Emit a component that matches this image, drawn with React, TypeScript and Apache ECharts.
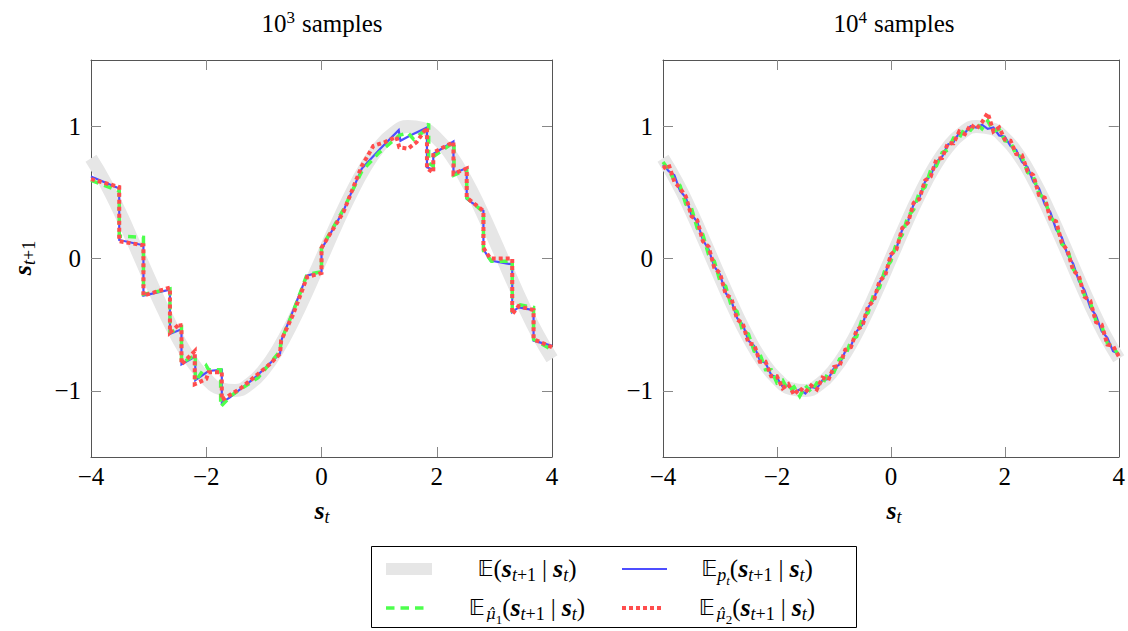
import React, { useEffect, useRef } from 'react';
import * as echarts from 'echarts';

const FONT = 'Liberation Serif';

// Panel titles and tick labels
const panelTitles = ['3', '4'];
const xTickValues = [-4, -2, 0, 2, 4];
const yTickValues = [-1, 0, 1];

// True conditional expectation (gray band), sampled every 0.25 from -4 to 4
const trueY = [
  0.757, 0.572, 0.351, 0.108, -0.141, -0.382, -0.598, -0.778, -0.909, -0.984, -0.997,
  -0.949, -0.841, -0.682, -0.479, -0.247, 0.0, 0.247, 0.479, 0.682, 0.841, 0.949, 0.997,
  0.984, 0.909, 0.778, 0.598, 0.382, 0.141, -0.108, -0.351, -0.572, -0.757,
];

// 10^3 samples panel: piecewise estimates [s_t, s_{t+1}]
const blueLeft: [number, number][] = [
  [-4.0, 0.62], [-3.51, 0.53], [-3.51, 0.14], [-3.09, 0.10], [-3.09, -0.28], [-2.63, -0.235],
  [-2.63, -0.57], [-2.43, -0.535], [-2.43, -0.8], [-2.19, -0.74], [-2.19, -0.92], [-1.96, -0.85],
  [-1.73, -0.84], [-1.73, -1.09], [-1.59, -1.05], [-1.18, -0.91], [-0.72, -0.72], [-0.69, -0.61],
  [-0.49, -0.39], [-0.255, -0.13], [0.0, -0.1], [0.0, 0.07], [0.38, 0.36], [0.7, 0.68],
  [1.02, 0.83], [1.34, 0.97], [1.37, 0.89], [1.54, 0.93], [1.83, 0.99], [1.83, 0.69],
  [1.94, 0.67], [1.94, 0.79], [2.29, 0.885], [2.29, 0.64], [2.52, 0.685], [2.52, 0.45],
  [2.81, 0.36], [2.81, 0.07], [2.93, -0.015], [3.31, -0.045], [3.31, -0.405], [3.42, -0.37],
  [3.68, -0.39], [3.68, -0.62], [4.0, -0.66],
];
const greenLeft: [number, number][] = [
  [-4.0, 0.59], [-3.51, 0.51], [-3.51, 0.17], [-3.09, 0.16], [-3.09, -0.27], [-2.63, -0.23],
  [-2.63, -0.56], [-2.43, -0.52], [-2.43, -0.79], [-2.19, -0.73], [-2.19, -0.93], [-2.0, -0.81],
  [-1.96, -0.84], [-1.75, -0.84], [-1.75, -1.12], [-1.55, -1.03], [-1.1, -0.9], [-0.72, -0.7],
  [-0.7, -0.62], [-0.49, -0.4], [-0.25, -0.12], [0.0, -0.1], [0.0, 0.08], [0.38, 0.37],
  [0.7, 0.66], [1.0, 0.8], [1.35, 0.93], [1.5, 0.95], [1.6, 0.9], [1.8, 0.97], [1.86, 1.02],
  [1.86, 0.72], [1.94, 0.7], [1.94, 0.77], [2.3, 0.88], [2.3, 0.63], [2.52, 0.67], [2.52, 0.46],
  [2.81, 0.35], [2.81, 0.06], [2.95, -0.02], [3.31, -0.02], [3.31, -0.39], [3.45, -0.35],
  [3.68, -0.37], [3.68, -0.61], [4.0, -0.69],
];
const redLeft: [number, number][] = [
  [-4.0, 0.6], [-3.51, 0.54], [-3.51, 0.13], [-3.09, 0.1], [-3.09, -0.28], [-2.63, -0.22],
  [-2.63, -0.56], [-2.45, -0.49], [-2.43, -0.55], [-2.43, -0.8], [-2.2, -0.7], [-2.2, -0.95],
  [-2.0, -0.91], [-1.96, -0.86], [-1.73, -0.86], [-1.73, -1.07], [-1.4, -0.98], [-0.9, -0.8],
  [-0.72, -0.72], [-0.7, -0.62], [-0.49, -0.42], [-0.25, -0.14], [0.0, -0.11], [0.0, 0.08],
  [0.38, 0.35], [0.7, 0.7], [0.9, 0.85], [1.1, 0.88], [1.3, 0.92], [1.35, 0.84], [1.5, 0.83],
  [1.65, 0.88], [1.83, 0.99], [1.83, 0.68], [1.94, 0.65], [1.94, 0.8], [2.29, 0.88], [2.29, 0.64],
  [2.52, 0.68], [2.52, 0.46], [2.81, 0.36], [2.81, 0.08], [2.93, 0.0], [3.31, 0.0], [3.31, -0.42],
  [3.42, -0.36], [3.68, -0.39], [3.68, -0.61], [4.0, -0.67],
];

// 10^4 samples panel: estimates sampled every 0.1 from -4 to 4
const blueRight = [
  0.71, 0.66, 0.63, 0.51, 0.46, 0.33, 0.28, 0.14, 0.07, -0.06,
  -0.12, -0.26, -0.32, -0.45, -0.50, -0.62, -0.66, -0.77, -0.79, -0.88,
  -0.90, -0.97, -0.96, -1.01, -0.99, -1.02, -0.97, -0.98, -0.92, -0.91,
  -0.83, -0.80, -0.70, -0.66, -0.55, -0.50, -0.37, -0.31, -0.18, -0.12,
  0.02, 0.08, 0.22, 0.28, 0.41, 0.46, 0.58, 0.63, 0.73, 0.77,
  0.86, 0.88, 0.95, 0.95, 1.00, 0.99, 1.01, 0.98, 0.99, 0.93,
  0.92, 0.85, 0.82, 0.73, 0.69, 0.58, 0.53, 0.41, 0.35, 0.22,
  0.16, 0.03, -0.04, -0.17, -0.24, -0.37, -0.43, -0.55, -0.60, -0.70,
  -0.72,
];
const greenRight = [
  0.73, 0.67, 0.59, 0.55, 0.41, 0.38, 0.23, 0.18, 0.03, -0.02,
  -0.17, -0.21, -0.36, -0.40, -0.55, -0.57, -0.70, -0.72, -0.84, -0.84,
  -0.94, -0.92, -1.00, -0.97, -1.04, -0.96, -1.01, -0.94, -0.95, -0.86,
  -0.86, -0.76, -0.74, -0.62, -0.59, -0.45, -0.41, -0.27, -0.22, -0.08,
  -0.02, 0.12, 0.18, 0.32, 0.37, 0.50, 0.54, 0.67, 0.70, 0.80,
  0.82, 0.91, 0.91, 0.99, 0.97, 1.02, 0.98, 1.04, 0.96, 0.98,
  0.89, 0.88, 0.78, 0.77, 0.65, 0.62, 0.49, 0.45, 0.31, 0.27,
  0.11, 0.07, -0.08, -0.14, -0.28, -0.33, -0.47, -0.51, -0.64, -0.67,
  -0.73,
];
const redRight = [
  0.68, 0.71, 0.58, 0.53, 0.47, 0.32, 0.29, 0.13, 0.09, -0.07,
  -0.11, -0.27, -0.30, -0.46, -0.49, -0.64, -0.65, -0.78, -0.78, -0.89,
  -0.89, -0.98, -0.95, -1.03, -0.98, -1.01, -0.96, -0.99, -0.90, -0.92,
  -0.82, -0.81, -0.69, -0.67, -0.54, -0.51, -0.36, -0.32, -0.17, -0.13,
  0.03, 0.07, 0.23, 0.27, 0.42, 0.45, 0.59, 0.62, 0.75, 0.76,
  0.87, 0.87, 0.96, 0.94, 1.01, 0.98, 1.03, 1.10, 0.96, 0.99,
  0.90, 0.89, 0.79, 0.78, 0.66, 0.63, 0.48, 0.46, 0.30, 0.28,
  0.12, 0.06, -0.09, -0.13, -0.29, -0.32, -0.48, -0.50, -0.65, -0.66,
  -0.74,
];

const GRAY = '#e6e6e6';
const BLUE = '#4d4dff';
const GREEN = '#4dff4d';
const RED = '#ff4d4d';

const rich: any = {
  n: { fontFamily: FONT, fontSize: 25, color: '#000' },
  bb: { fontFamily: 'DejaVu Sans', fontSize: 22, color: '#000' },
  s: { fontFamily: FONT, fontSize: 26, fontWeight: 'bold', fontStyle: 'italic', color: '#000' },
  sub: { fontFamily: FONT, fontSize: 18, fontStyle: 'italic', color: '#000', padding: [14, 0, 0, 0] },
  subg: { fontFamily: 'DejaVu Serif', fontSize: 15, fontStyle: 'italic', color: '#000', padding: [14, 0, 0, 1] },
  subn: { fontFamily: FONT, fontSize: 18, color: '#000', padding: [14, 0, 0, 0] },
  subsub: { fontFamily: FONT, fontSize: 13, fontStyle: 'italic', color: '#000', padding: [24, 0, 0, 0] },
  subsubn: { fontFamily: FONT, fontSize: 13, color: '#000', padding: [24, 0, 0, 0] },
  sup: { fontFamily: FONT, fontSize: 17, color: '#000', padding: [0, 0, 11, 0] },
  w: { fontFamily: FONT, fontSize: 25, color: '#000', padding: [0, 0, 0, 7] },
  bar: { fontFamily: FONT, fontSize: 25, color: '#000', padding: [0, 6, 0, 6] },
  t: { fontFamily: FONT, fontSize: 25, color: '#000' },
};

const condText = '{n|(}{s|s}{sub|t}{subn|+1}{bar||}{s|s}{sub|t}{n|)}';
const legendTexts = [
  '{bb|𝔼}' + condText,
  '{bb|𝔼}{sub|p}{subsub|t}' + condText,
  '{bb|𝔼}{subg|μ̂}{subsubn|1}' + condText,
  '{bb|𝔼}{subg|μ̂}{subsubn|2}' + condText,
];

function fmt(v: number) {
  return v < 0 ? '\u2212' + Math.abs(v) : String(v);
}

function textEl(x: number, y: number, text: string, rotation = 0) {
  return {
    type: 'text',
    x,
    y,
    rotation,
    z: 100,
    style: {
      text,
      rich,
      fill: '#000',
      fontFamily: FONT,
      fontSize: 24,
      align: 'center',
      verticalAlign: 'middle',
      textAlign: 'center',
      textVerticalAlign: 'middle',
    },
  };
}

function buildOption() {
  const grids = [
    { left: 91, top: 60, width: 461, height: 397 },
    { left: 663, top: 60, width: 461, height: 397 },
  ];
  const axisLine = { onZero: false, lineStyle: { color: '#555', width: 1 } };
  const axisTick = { inside: true, length: 10, lineStyle: { color: '#888', width: 1 } };
  const xAxis: any[] = [];
  const yAxis: any[] = [];
  for (let g = 0; g < 2; g++) {
    for (const pos of ['bottom', 'top']) {
      xAxis.push({
        type: 'value',
        gridIndex: g,
        position: pos,
        min: -4,
        max: 4,
        interval: 2,
        axisLine,
        axisTick: { ...axisTick, customValues: [-2, 0, 2] },
        splitLine: { show: false },
        axisLabel: {
          show: pos === 'bottom',
          customValues: xTickValues,
          formatter: fmt,
          fontFamily: FONT,
          fontSize: 25,
          color: '#000',
          margin: 7,
        },
      });
    }
    for (const pos of ['left', 'right']) {
      yAxis.push({
        type: 'value',
        gridIndex: g,
        position: pos,
        min: -1.5,
        max: 1.5,
        axisLine,
        axisTick: { ...axisTick, customValues: yTickValues },
        splitLine: { show: false },
        axisLabel: {
          show: pos === 'left',
          customValues: yTickValues,
          formatter: fmt,
          fontFamily: FONT,
          fontSize: 25,
          color: '#000',
          margin: 10,
        },
      });
    }
  }

  const grayPts = trueY.map((y, i) => [-4 + i * 0.25, y]);
  const toPts = (arr: number[]) => arr.map((y, i) => [-4 + i * 0.1, y]);

  const mk = (data: any[], panel: number, color: string, width: number, type: any, smooth = false) => ({
    type: 'line',
    xAxisIndex: panel * 2,
    yAxisIndex: panel * 2,
    data,
    smooth,
    showSymbol: false,
    symbol: 'none',
    silent: true,
    lineStyle: { color, width, type, cap: 'butt', join: 'miter' },
  });

  const series = [
    mk(grayPts, 0, GRAY, 13, 'solid', true),
    mk(blueLeft, 0, BLUE, 2.2, 'solid'),
    mk(greenLeft, 0, GREEN, 3.5, [8, 6]),
    mk(redLeft, 0, RED, 4, [4, 3]),
    mk(grayPts, 1, GRAY, 13, 'solid', true),
    mk(toPts(blueRight), 1, BLUE, 2.2, 'solid'),
    mk(toPts(greenRight), 1, GREEN, 3.5, [8, 6]),
    mk(toPts(redRight), 1, RED, 4, [4, 3]),
  ];

  const graphic: any[] = [
    textEl(322, 23, '{t|10}{sup|' + panelTitles[0] + '}{w|samples}'),
    textEl(894, 23, '{t|10}{sup|' + panelTitles[1] + '}{w|samples}'),
    textEl(322, 510, '{s|s}{sub|t}'),
    textEl(894, 510, '{s|s}{sub|t}'),
    textEl(22, 258, '{s|s}{sub|t}{subn|+1}', Math.PI / 2),
    {
      type: 'rect',
      z: 90,
      shape: { x: 371.5, y: 546.5, width: 485, height: 81 },
      style: { fill: '#fff', stroke: '#000', lineWidth: 1 },
    },
    {
      type: 'rect',
      z: 95,
      shape: { x: 386, y: 563, width: 46, height: 12 },
      style: { fill: GRAY },
    },
    {
      type: 'line',
      z: 95,
      shape: { x1: 622, y1: 569, x2: 667, y2: 569 },
      style: { stroke: BLUE, lineWidth: 2.2 },
    },
    {
      type: 'line',
      z: 95,
      shape: { x1: 386, y1: 608, x2: 426, y2: 608 },
      style: { stroke: GREEN, lineWidth: 3.5, lineDash: [8.5, 6] },
    },
    {
      type: 'line',
      z: 95,
      shape: { x1: 622, y1: 608, x2: 664, y2: 608 },
      style: { stroke: RED, lineWidth: 4, lineDash: [4, 3] },
    },
    textEl(527, 568, legendTexts[0]),
    textEl(757, 568, legendTexts[1]),
    textEl(527, 607, legendTexts[2]),
    textEl(757, 607, legendTexts[3]),
  ];

  return {
    animation: false,
    backgroundColor: '#fff',
    grid: grids,
    xAxis,
    yAxis,
    series,
    graphic,
  };
}

export default function App() {
  const ref = useRef<HTMLDivElement>(null);
  useEffect(() => {
    document.body.style.margin = '0';
    const chart = echarts.init(ref.current!, null, { renderer: 'svg' });
    chart.setOption(buildOption() as any);
    return () => chart.dispose();
  }, []);
  return <div ref={ref} style={{ width: 1128, height: 631 }} />;
}
